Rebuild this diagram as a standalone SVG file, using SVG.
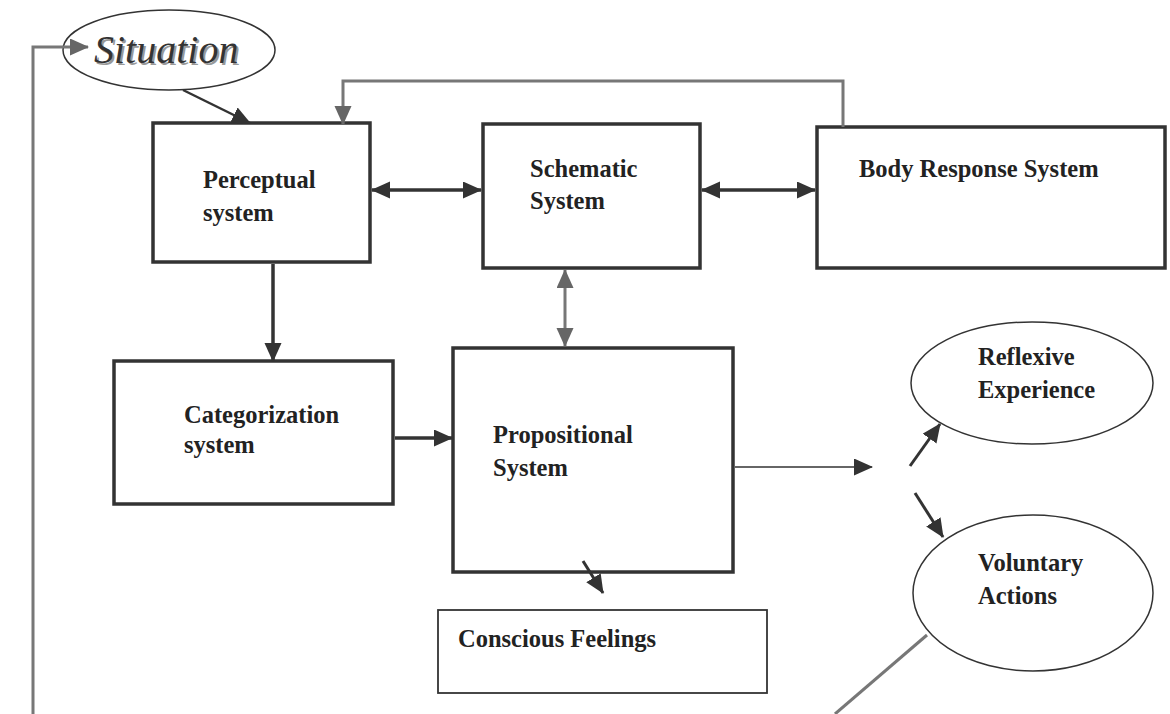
<svg xmlns="http://www.w3.org/2000/svg" width="1170" height="714" viewBox="0 0 1170 714">
<style>
.box{fill:#fff;stroke:#333;stroke-width:3.5}
.thin{fill:#fff;stroke:#333;stroke-width:1.8}
.ell{fill:#fff;stroke:#333;stroke-width:1.5}
.t{font-family:"Liberation Serif","Times New Roman",serif;font-weight:bold;font-size:24.5px;fill:#222}
.it{font-family:"Liberation Serif","Times New Roman",serif;font-style:italic;font-size:40px}
.dk{fill:none;stroke:#333;stroke-width:3.5}
.gr{fill:none;stroke:#777;stroke-width:3}
.th{fill:none;stroke:#333;stroke-width:1.5}
</style>
<defs>
<marker id="ad" markerUnits="userSpaceOnUse" markerWidth="20" markerHeight="18" refX="18" refY="8.5" orient="auto-start-reverse" viewBox="0 0 20 18">
<path d="M0,0 L19,8.5 L0,17 z" fill="#333"/>
</marker>
<marker id="ag" markerUnits="userSpaceOnUse" markerWidth="20" markerHeight="18" refX="18" refY="8.5" orient="auto-start-reverse" viewBox="0 0 20 18">
<path d="M0,0 L19,8.5 L0,17 z" fill="#666"/>
</marker>
</defs>
<rect width="1170" height="714" fill="#fff"/>
<g id="situation">
<ellipse class="ell" cx="169" cy="50" rx="106" ry="40"/>
<text class="it" x="96" y="65" fill="#999">Situation</text>
<text class="it" x="94" y="63" fill="#333">Situation</text>
</g>
<g id="perceptual">
<rect class="box" x="153" y="123" width="217" height="139"/>
<text class="t" x="203" y="188">Perceptual</text>
<text class="t" x="203" y="221">system</text>
</g>
<g id="schematic">
<rect class="box" x="483" y="124" width="217" height="144"/>
<text class="t" x="530" y="177">Schematic</text>
<text class="t" x="530" y="209">System</text>
</g>
<g id="body">
<rect class="box" x="817" y="127" width="348" height="141"/>
<text class="t" x="859" y="177">Body Response System</text>
</g>
<g id="categorization">
<rect class="box" x="114" y="361" width="279" height="143"/>
<text class="t" x="184" y="423">Categorization</text>
<text class="t" x="184" y="453">system</text>
</g>
<g id="propositional">
<rect class="box" x="453" y="348" width="280" height="224"/>
<text class="t" x="493" y="443">Propositional</text>
<text class="t" x="493" y="476">System</text>
</g>
<g id="conscious">
<rect class="thin" x="438" y="610" width="329" height="83"/>
<text class="t" x="458" y="647">Conscious Feelings</text>
</g>
<g id="reflexive">
<ellipse class="ell" cx="1032" cy="383" rx="121" ry="61"/>
<text class="t" x="978" y="365">Reflexive</text>
<text class="t" x="978" y="398">Experience</text>
</g>
<g id="voluntary">
<ellipse class="ell" cx="1033" cy="593" rx="120" ry="78"/>
<text class="t" x="978" y="571">Voluntary</text>
<text class="t" x="978" y="604">Actions</text>
</g>
<g id="connectors">
<polyline class="gr" points="33,714 33,47 88,47" marker-end="url(#ag)"/>
<line class="dk" x1="183" y1="90" x2="250" y2="123" marker-end="url(#ad)" style="stroke-width:2.5"/>
<polyline class="gr" points="843,127 843,81 343,81 343,124" marker-end="url(#ag)"/>
<line class="dk" x1="372" y1="190" x2="481" y2="190" marker-start="url(#ad)" marker-end="url(#ad)"/>
<line class="dk" x1="702" y1="190" x2="815" y2="190" marker-start="url(#ad)" marker-end="url(#ad)"/>
<line class="gr" x1="565" y1="270" x2="565" y2="346" marker-start="url(#ag)" marker-end="url(#ag)"/>
<line class="dk" x1="273" y1="264" x2="273" y2="361" marker-end="url(#ad)"/>
<line class="dk" x1="395" y1="438" x2="452" y2="438" marker-end="url(#ad)"/>
<line class="th" x1="735" y1="467" x2="872" y2="467" marker-end="url(#ad)"/>
<line class="dk" x1="910" y1="466" x2="940" y2="424" marker-end="url(#ad)" style="stroke-width:3"/>
<line class="dk" x1="915" y1="493" x2="943" y2="537" marker-end="url(#ad)" style="stroke-width:3"/>
<line class="dk" x1="583" y1="561" x2="603" y2="593" marker-end="url(#ad)" style="stroke-width:3"/>
<line class="gr" x1="927" y1="635" x2="835" y2="714"/>
</g>
</svg>
